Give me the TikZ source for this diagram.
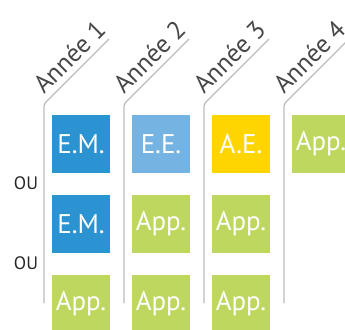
\documentclass[tikz,border=0pt]{standalone}
\usepackage{fontspec}
\setmainfont{PT Sans}

\definecolor{emblue}{HTML}{2B93D1}
\definecolor{eeblue}{HTML}{74B3E2}
\definecolor{aeyellow}{HTML}{FFD500}
\definecolor{appgreen}{HTML}{BED75E}
\definecolor{linegray}{HTML}{BBBBBB}
\definecolor{textgray}{HTML}{474747}

\begin{document}
\begin{tikzpicture}[x=1pt,y=-1pt]

\tikzset{cell/.style = {minimum size=58pt, inner sep=0pt, text=white, font=\fontsize{27}{27}\selectfont}}
\tikzset{timeline/.style = {draw=linegray, line width=1.2pt, rounded corners=2pt}}
\tikzset{year/.style = {rotate=45, anchor=base west, text=textgray, inner sep=0pt, font=\fontsize{25.5}{25.5}\selectfont}}
\tikzset{orlabel/.style = {text=black!85, inner sep=0pt, font=\fontsize{18}{18}\selectfont}}

\clip (0,0) rectangle (345,329);

% column lines
\coordinate (b1) at (44,303);  \coordinate (k1) at (44,104);  \coordinate (t1) at (109,39);
\coordinate (b2) at (124,303); \coordinate (k2) at (124,104); \coordinate (t2) at (189,39);
\coordinate (b3) at (204,303); \coordinate (k3) at (204,104); \coordinate (t3) at (269,39);
\coordinate (b4) at (284,303); \coordinate (k4) at (284,104); \coordinate (t4) at (349,39);
\draw[timeline] (b1) -- (k1) -- (t1);
\draw[timeline] (b2) -- (k2) -- (t2);
\draw[timeline] (b3) -- (k3) -- (t3);
\draw[timeline] (b4) -- (k4) -- (t4);

% years
\node[year] (y1) at (44,95)  {Année 1};
\node[year] (y2) at (124,95) {Année 2};
\node[year] (y3) at (204,95) {Année 3};
\node[year] (y4) at (284,95) {Année 4};

% first row
\node[cell, fill=emblue]   (em1)  at (81,144)  {E.M.};
\node[cell, fill=eeblue]   (ee2)  at (161,144) {E.E.};
\node[cell, fill=aeyellow] (ae3)  at (241,144) {A.E.};
\node[cell, fill=appgreen] (app4) at (321,144) {App.};

% second row
\node[cell, fill=emblue]   (em1b)  at (81,224)  {E.M.};
\node[cell, fill=appgreen] (app2b) at (161,224) {App.};
\node[cell, fill=appgreen] (app3b) at (241,224) {App.};

% third row
\node[cell, fill=appgreen] (app1c) at (81,304)  {App.};
\node[cell, fill=appgreen] (app2c) at (161,304) {App.};
\node[cell, fill=appgreen] (app3c) at (241,304) {App.};

% or
\node[orlabel] (or1) at (26,183) {OU};
\node[orlabel] (or2) at (26,263) {OU};

\end{tikzpicture}
\end{document}
